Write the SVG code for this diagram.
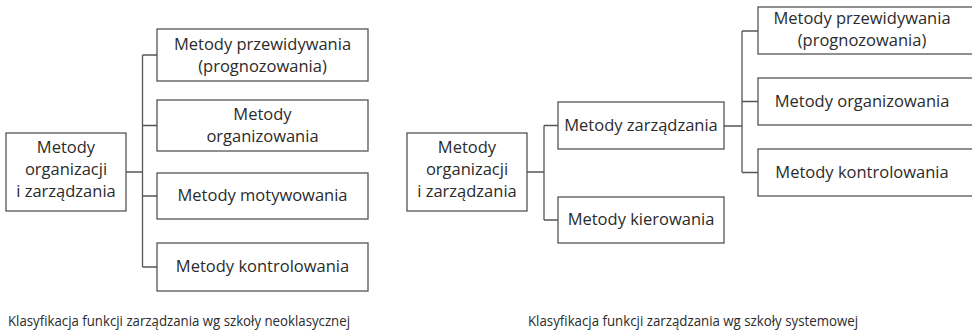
<svg xmlns="http://www.w3.org/2000/svg" width="972" height="331" viewBox="0 0 972 331">
<style>
.box{fill:#fff;stroke:#555;stroke-width:1.3}
.t{font-family:"Open Sans","Liberation Sans",sans-serif;font-size:16.5px;fill:#2b2b2b;text-anchor:middle}
.cap{font-family:"Open Sans","Liberation Sans",sans-serif;font-size:15px;fill:#2b2b2b}
.c{fill:none;stroke:#555;stroke-width:1.3}
</style>
<rect width="972" height="331" fill="#fff"/>
<g id="connectors">
<path class="c" d="M126 172H142.5M142.5 55V267M142.5 55H157M142.5 125.5H157M142.5 196H157M142.5 267H157"/>
<path class="c" d="M527 172H544M544 125.5V220M544 125.5H558M544 220H558"/>
<path class="c" d="M724 126H742M742 31V172.5M742 31H758M742 101.5H758M742 172.5H758"/>
</g>
<g id="l-root"><rect class="box" x="6" y="133" width="120" height="78"/>
<text class="t" x="66" y="153">Metody</text><text class="t" x="66" y="175">organizacji</text><text class="t" x="66" y="197">i zarządzania</text></g>
<g id="l-przew"><rect class="box" x="157" y="29" width="211" height="52"/>
<text class="t" x="262.5" y="50">Metody przewidywania</text><text class="t" x="262.5" y="72">(prognozowania)</text></g>
<g id="l-org"><rect class="box" x="157" y="100" width="211" height="51"/>
<text class="t" x="262.5" y="120">Metody</text><text class="t" x="262.5" y="142">organizowania</text></g>
<g id="l-mot"><rect class="box" x="157" y="173" width="211" height="46"/>
<text class="t" x="262.5" y="201">Metody motywowania</text></g>
<g id="l-kontr"><rect class="box" x="157" y="243" width="211" height="48"/>
<text class="t" x="262.5" y="272">Metody kontrolowania</text></g>
<g id="r-root"><rect class="box" x="407" y="133" width="120" height="78"/>
<text class="t" x="467" y="153">Metody</text><text class="t" x="467" y="175">organizacji</text><text class="t" x="467" y="197">i zarządzania</text></g>
<g id="r-zarz"><rect class="box" x="558" y="102" width="166" height="47"/>
<text class="t" x="641" y="131">Metody zarządzania</text></g>
<g id="r-kier"><rect class="box" x="558" y="197" width="166" height="46"/>
<text class="t" x="641" y="225">Metody kierowania</text></g>
<g id="r-przew"><rect class="box" x="758" y="7" width="216" height="47"/>
<text class="t" x="862" y="24">Metody przewidywania</text><text class="t" x="862" y="46">(prognozowania)</text></g>
<g id="r-org"><rect class="box" x="758" y="78" width="216" height="47"/>
<text class="t" x="862" y="107">Metody organizowania</text></g>
<g id="r-kontr"><rect class="box" x="758" y="149" width="216" height="47"/>
<text class="t" x="862" y="178">Metody kontrolowania</text></g>
<text class="cap" x="8" y="326" textLength="342" lengthAdjust="spacingAndGlyphs">Klasyfikacja funkcji zarządzania wg szkoły neoklasycznej</text>
<text class="cap" x="528" y="326" textLength="330" lengthAdjust="spacingAndGlyphs">Klasyfikacja funkcji zarządzania wg szkoły systemowej</text>
</svg>
